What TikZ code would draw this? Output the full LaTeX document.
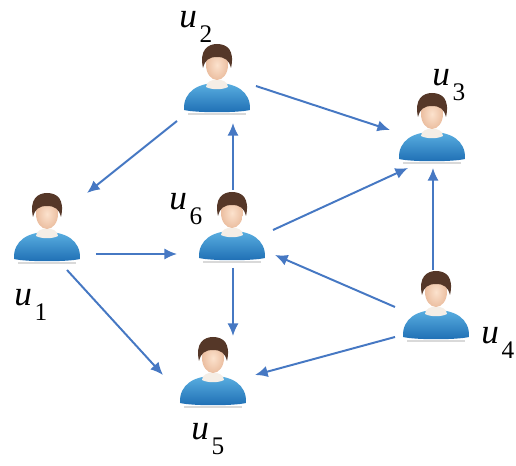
\documentclass[tikz,border=0pt]{standalone}
\usepackage{fontspec}
\setmainfont{Liberation Serif}
\usetikzlibrary{arrows.meta}

\definecolor{linkblue}{RGB}{70,120,195}
\definecolor{bodytop}{RGB}{90,175,225}
\definecolor{bodybot}{RGB}{30,110,180}
\definecolor{skin}{RGB}{252,226,205}
\definecolor{skindark}{RGB}{235,190,160}
\definecolor{skinpale}{RGB}{245,238,230}
\definecolor{hair}{RGB}{85,55,40}

% user name with lowered index
\newcommand{\uname}[1]{\textit{u}\kern2pt\raisebox{-10pt}{\fontsize{18}{18}\selectfont #1}}

\tikzset{
  user/.style={minimum width=1.65cm, minimum height=1.75cm, inner sep=0pt},
  lab/.style={anchor=base west, inner sep=0pt, font=\fontsize{25}{28}\selectfont},
  link/.style={draw=linkblue, line width=1.4pt, -{Latex[length=9pt,width=8pt]}},
  person/.pic={
    % shadow under the body
    \fill[gray!30] (-29,33) rectangle (29,35);
    % body
    \shade[top color=bodytop, bottom color=bodybot]
      (-33,30) .. controls (-34,11) and (-18,3) .. (0,3)
      .. controls (18,3) and (34,11) .. (33,30)
      .. controls (20,33) and (-20,33) .. cycle;
    % neck and hands
    \fill[skinpale] (-11,7) .. controls (-11,-3) and (11,-3) .. (11,7)
      .. controls (5,10) and (-5,10) .. cycle;
    % face
    \shade[inner color=skin, outer color=skindark] (0,-15) ellipse [x radius=11, y radius=15];
    % hair
    \fill[hair] (-14,-12) .. controls (-18,-30) and (-9,-36) .. (0,-36)
      .. controls (10,-36) and (18,-30) .. (14,-12)
      .. controls (12,-20) and (8,-23) .. (0,-23)
      .. controls (-8,-23) and (-12,-20) .. cycle;
  }
}

\begin{document}
\begin{tikzpicture}[x=0.025cm, y=-0.025cm]
    \useasboundingbox (0,0) rectangle (516,466);

    % the six users
    \foreach \n/\px/\py in {u1/47/229, u2/217/80, u3/432/129, u4/436/307, u5/213/373, u6/232/228}{
        \node[user] (\n) at (\px,\py) {};
        \pic at (\n) {person};
    }

    \node[lab] (l1) at (14,306) {\uname{1}};
    \node[lab] (l2) at (179,28) {\uname{2}};
    \node[lab] (l3) at (432,86) {\uname{3}};
    \node[lab] (l4) at (481,344) {\uname{4}};
    \node[lab] (l5) at (191,440) {\uname{5}};
    \node[lab] (l6) at (169,210) {\uname{6}};

    % follow relations
    \draw[link] ([shift={(-40,41)}]u2.center) -- ([shift={(40,-36)}]u1.center);
    \draw[link] ([shift={(39,6)}]u2.center) -- ([shift={(-42,1)}]u3.center);
    \draw[link] ([shift={(1,-38)}]u6.center) -- ([shift={(16,43)}]u2.center);
    \draw[link] ([shift={(41,2)}]u6.center) -- ([shift={(-24,39)}]u3.center);
    \draw[link] ([shift={(49,25)}]u1.center) -- ([shift={(-55,26)}]u6.center);
    \draw[link] ([shift={(20,41)}]u1.center) -- ([shift={(-50,2)}]u5.center);
    \draw[link] ([shift={(1,40)}]u6.center) -- ([shift={(20,-37)}]u5.center);
    \draw[link] ([shift={(-41,0)}]u4.center) -- ([shift={(43,27)}]u6.center);
    \draw[link] ([shift={(-3,-37)}]u4.center) -- ([shift={(1,39)}]u3.center);
    \draw[link] ([shift={(-41,30)}]u4.center) -- ([shift={(42,2)}]u5.center);
\end{tikzpicture}
\end{document}
